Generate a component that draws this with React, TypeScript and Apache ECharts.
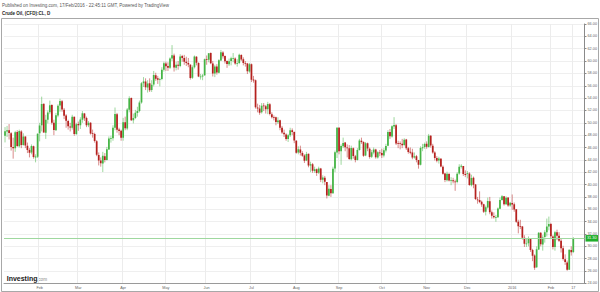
import React, { useEffect, useRef } from "react";
import * as echarts from "echarts";

const headerText = "Published on Investing.com, 17/Feb/2016 - 22:45:11 GMT, Powered by TradingView";
const symbolText = "Crude Oil, (CFD):CL, D";
const monthNames = ["Jan", "Feb", "Mar", "Apr", "May", "Jun", "Jul", "Aug", "Sep", "Oct", "Nov", "Dec"];

// rows: [day, open, close, low, high]
const jan2015 = [
  [7, 47.9, 48.65, 46.83, 49.31], [8, 48.6, 48.79, 47.7, 49.5], [9, 48.8, 48.36, 47.3, 49.8],
  [12, 48.3, 46.07, 45.5, 48.5], [13, 46.1, 45.89, 44.2, 47.6], [14, 45.9, 48.48, 45.3, 48.7],
  [15, 48.5, 46.25, 46.1, 48.8], [16, 46.2, 48.69, 46.0, 48.9], [20, 48.6, 46.39, 45.9, 48.8],
  [21, 46.4, 47.78, 46.3, 48.3], [22, 47.8, 46.31, 45.9, 47.8], [23, 46.3, 45.59, 45.1, 46.8],
  [26, 45.6, 45.15, 44.4, 45.9], [27, 45.2, 46.23, 44.9, 46.5], [28, 46.2, 44.45, 44.2, 46.3],
  [29, 44.4, 44.53, 43.6, 44.9], [30, 44.5, 48.24, 44.3, 48.3],
];
const feb2015 = [
  [2, 48.3, 49.57, 47.0, 50.0], [3, 49.6, 53.05, 48.6, 54.24], [4, 53.1, 48.45, 48.4, 53.1],
  [5, 48.4, 50.48, 47.4, 51.3], [6, 50.5, 51.69, 49.9, 52.0], [9, 51.7, 52.86, 51.4, 53.6],
  [10, 52.9, 50.02, 49.7, 53.0], [11, 50.0, 48.84, 48.0, 50.5], [12, 48.8, 51.21, 48.7, 51.6],
  [13, 51.2, 52.78, 50.9, 53.0], [17, 52.8, 53.53, 51.8, 53.9], [18, 53.5, 52.14, 51.8, 53.7],
  [19, 52.1, 51.16, 50.6, 52.4], [20, 51.2, 50.34, 49.2, 51.4], [23, 50.3, 49.45, 48.9, 50.5],
  [24, 49.4, 49.25, 48.6, 50.0], [25, 49.2, 50.99, 48.9, 51.3], [26, 51.0, 48.17, 47.9, 51.0],
  [27, 48.2, 49.76, 48.0, 50.0],
];
const mar2015 = [
  [2, 49.8, 49.59, 48.7, 50.2], [3, 49.6, 50.52, 49.0, 50.9], [4, 50.5, 51.53, 50.0, 51.9],
  [5, 51.5, 50.76, 50.3, 51.6], [6, 50.8, 49.61, 49.3, 51.0], [9, 49.6, 50.0, 49.3, 50.3],
  [10, 50.0, 48.29, 48.1, 50.1], [11, 48.3, 48.17, 47.6, 48.9], [12, 48.2, 47.05, 46.8, 48.4],
  [13, 47.0, 44.84, 44.6, 47.2], [16, 44.8, 43.88, 43.1, 45.2], [17, 43.9, 43.46, 42.9, 44.4],
  [18, 43.4, 44.66, 42.03, 45.3], [19, 44.6, 43.96, 43.6, 45.1], [20, 44.0, 45.72, 43.9, 46.1],
  [23, 45.7, 47.45, 45.6, 47.8], [24, 47.4, 47.51, 46.8, 47.9], [25, 47.5, 49.21, 47.1, 49.6],
  [26, 49.2, 51.43, 48.8, 52.48], [27, 51.4, 48.87, 48.4, 51.6], [30, 48.9, 48.68, 48.0, 49.2],
  [31, 48.7, 47.6, 47.1, 48.9],
];
const apr2015 = [
  [1, 47.6, 50.09, 47.1, 50.8], [2, 50.1, 49.14, 48.8, 51.0], [6, 49.1, 52.14, 48.8, 52.4],
  [7, 52.1, 53.98, 51.7, 54.3], [8, 54.0, 50.42, 50.3, 54.1], [9, 50.4, 50.79, 49.9, 51.5],
  [10, 50.8, 51.64, 50.6, 52.1], [13, 51.6, 51.91, 51.0, 52.6], [14, 51.9, 53.29, 51.7, 53.6],
  [15, 53.3, 56.39, 53.1, 56.6], [16, 56.4, 56.71, 55.8, 57.4], [17, 56.7, 55.74, 55.3, 57.2],
  [20, 55.7, 56.38, 54.9, 56.9], [21, 56.4, 55.26, 55.0, 57.2], [22, 55.3, 56.16, 55.0, 56.9],
  [23, 56.2, 57.74, 55.9, 58.4], [24, 57.7, 57.15, 56.8, 58.1], [27, 57.2, 56.99, 56.3, 57.6],
  [28, 57.0, 57.06, 55.9, 57.3], [29, 57.1, 58.58, 56.9, 59.0], [30, 58.6, 59.63, 58.3, 59.9],
];
const may2015 = [
  [1, 59.6, 59.15, 58.4, 59.9], [4, 59.2, 58.93, 58.4, 59.8], [5, 58.9, 60.4, 58.7, 60.6],
  [6, 60.4, 60.93, 60.0, 62.58], [7, 60.9, 58.94, 58.3, 61.2], [8, 58.9, 59.39, 58.5, 59.9],
  [11, 59.4, 59.25, 58.6, 60.0], [12, 59.2, 60.75, 59.0, 61.1], [13, 60.8, 60.5, 59.9, 61.0],
  [14, 60.5, 59.88, 59.4, 61.0], [15, 59.9, 59.69, 59.2, 60.7], [18, 59.7, 59.43, 59.0, 60.5],
  [19, 59.4, 57.26, 57.0, 59.5], [20, 57.3, 58.98, 57.1, 59.3], [21, 59.0, 60.72, 58.8, 60.9],
  [22, 60.7, 59.72, 59.3, 60.8], [26, 59.7, 57.51, 57.4, 59.8], [27, 57.5, 57.51, 57.0, 57.9],
  [28, 57.5, 57.68, 56.9, 57.9], [29, 57.7, 60.3, 57.6, 60.4],
];
const jun2015 = [
  [1, 60.3, 60.2, 59.4, 60.9], [2, 60.2, 61.26, 59.8, 61.3], [3, 61.3, 59.64, 59.5, 61.4],
  [4, 59.6, 58.0, 57.5, 60.0], [5, 58.0, 59.13, 57.4, 59.4], [8, 59.1, 58.14, 57.8, 59.5],
  [9, 58.1, 60.14, 58.0, 60.3], [10, 60.1, 61.43, 60.0, 61.8], [11, 61.4, 60.77, 60.4, 61.6],
  [12, 60.8, 59.96, 59.6, 60.9], [15, 60.0, 59.52, 58.9, 60.1], [16, 59.5, 59.97, 59.2, 60.4],
  [17, 60.0, 60.45, 59.3, 60.7], [18, 60.4, 60.45, 59.8, 61.3], [19, 60.4, 59.61, 59.4, 60.6],
  [22, 59.6, 59.68, 59.1, 60.3], [23, 59.7, 61.01, 59.5, 61.2], [24, 61.0, 60.27, 60.0, 61.1],
  [25, 60.3, 59.7, 59.3, 60.6], [26, 59.7, 59.63, 59.1, 60.0], [29, 59.6, 58.33, 57.9, 59.7],
  [30, 58.3, 59.47, 58.1, 59.7],
];
const jul2015 = [
  [1, 59.5, 56.96, 56.6, 59.6], [2, 57.0, 56.93, 56.5, 57.6], [6, 56.9, 52.53, 52.3, 57.0],
  [7, 52.5, 52.33, 51.7, 53.1], [8, 52.3, 51.65, 51.3, 52.9], [9, 51.7, 52.78, 51.5, 53.2],
  [10, 52.8, 52.74, 51.9, 53.2], [13, 52.7, 52.2, 51.5, 52.9], [14, 52.2, 53.04, 51.4, 53.4],
  [15, 53.0, 51.41, 51.2, 53.2], [16, 51.4, 50.91, 50.7, 51.7], [17, 50.9, 50.89, 50.4, 51.2],
  [20, 50.9, 50.15, 49.6, 51.0], [21, 50.1, 50.36, 49.8, 50.9], [22, 50.4, 49.19, 48.8, 50.5],
  [23, 49.2, 48.45, 48.2, 49.5], [24, 48.4, 48.14, 47.7, 48.9], [27, 48.1, 47.39, 47.1, 48.3],
  [28, 47.4, 47.98, 46.9, 48.2], [29, 48.0, 48.79, 47.7, 49.2], [30, 48.8, 48.52, 48.0, 49.1],
  [31, 48.5, 47.12, 46.7, 48.6],
];
const aug2015 = [
  [3, 47.1, 45.17, 45.0, 47.2], [4, 45.2, 45.74, 44.9, 46.2], [5, 45.7, 45.15, 44.7, 46.3],
  [6, 45.1, 44.66, 44.5, 45.4], [7, 44.7, 43.87, 43.5, 44.9], [10, 43.9, 44.96, 43.8, 45.3],
  [11, 45.0, 43.08, 42.8, 45.0], [12, 43.1, 43.3, 42.0, 43.7], [13, 43.3, 42.23, 41.9, 43.5],
  [14, 42.2, 42.5, 41.9, 42.9], [17, 42.5, 41.87, 41.4, 42.6], [18, 41.9, 42.62, 41.7, 42.9],
  [19, 42.6, 40.8, 40.4, 42.7], [20, 40.8, 41.14, 40.2, 41.5], [21, 41.1, 40.45, 39.9, 41.4],
  [24, 40.4, 38.24, 37.75, 40.4], [25, 38.2, 39.31, 38.1, 39.9], [26, 39.3, 38.6, 38.0, 39.9],
  [27, 38.6, 42.56, 38.5, 42.9], [28, 42.6, 45.22, 42.0, 45.5], [31, 45.2, 49.2, 44.3, 49.3],
];
const sep2015 = [
  [1, 49.2, 45.41, 44.9, 49.3], [2, 45.4, 46.25, 43.2, 46.5], [3, 46.2, 46.75, 45.9, 47.6],
  [4, 46.8, 46.05, 45.4, 46.9], [8, 46.0, 45.94, 44.4, 46.5], [9, 45.9, 44.15, 44.0, 46.4],
  [10, 44.1, 45.92, 43.9, 46.3], [11, 45.9, 44.63, 44.2, 46.0], [14, 44.6, 44.0, 43.6, 44.8],
  [15, 44.0, 45.59, 43.9, 45.9], [16, 45.6, 47.15, 45.5, 47.4], [17, 47.1, 46.9, 46.6, 47.6],
  [18, 46.9, 44.68, 44.5, 47.0], [21, 44.7, 46.68, 44.6, 46.9], [22, 46.7, 45.83, 45.4, 46.8],
  [23, 45.8, 44.48, 44.2, 46.0], [24, 44.5, 45.22, 44.3, 45.6], [25, 45.2, 45.7, 44.9, 46.0],
  [28, 45.7, 44.43, 44.2, 45.8], [29, 44.4, 45.23, 44.2, 45.4], [30, 45.2, 45.09, 44.6, 45.6],
];
const oct2015 = [
  [1, 45.1, 44.74, 44.3, 45.8], [2, 44.7, 45.54, 44.4, 45.9], [5, 45.5, 46.26, 45.2, 46.6],
  [6, 46.3, 48.53, 46.2, 48.8], [7, 48.5, 47.81, 47.4, 49.0], [8, 47.8, 49.43, 47.6, 49.6],
  [9, 49.4, 49.63, 49.0, 50.92], [12, 49.6, 46.66, 46.4, 49.8], [13, 46.7, 46.66, 45.9, 47.1],
  [14, 46.7, 46.64, 45.7, 47.0], [15, 46.6, 46.38, 45.9, 47.4], [16, 46.4, 47.26, 46.2, 47.5],
  [19, 47.3, 45.89, 45.6, 47.4], [20, 45.9, 45.29, 45.0, 46.1], [21, 45.3, 45.2, 44.9, 46.0],
  [22, 45.2, 44.38, 44.1, 45.8], [23, 44.4, 44.6, 44.2, 45.2], [26, 44.6, 43.98, 43.6, 44.8],
  [27, 44.0, 43.2, 42.58, 44.0], [28, 43.2, 45.94, 43.1, 46.2], [29, 45.9, 46.06, 45.4, 46.6],
  [30, 46.1, 46.59, 45.8, 46.8],
];
const nov2015 = [
  [2, 46.6, 46.14, 45.8, 47.0], [3, 46.1, 47.9, 46.0, 48.2], [4, 47.9, 46.32, 46.0, 48.0],
  [5, 46.3, 45.2, 45.0, 46.6], [6, 45.2, 44.29, 43.9, 45.4], [9, 44.3, 43.87, 43.6, 44.6],
  [10, 43.9, 44.21, 43.4, 44.5], [11, 44.2, 42.93, 42.8, 44.3], [12, 42.9, 41.75, 41.6, 43.1],
  [13, 41.8, 40.74, 40.4, 41.9], [16, 40.7, 41.74, 40.5, 42.1], [17, 41.7, 40.67, 40.5, 41.9],
  [18, 40.7, 40.75, 39.9, 41.2], [19, 40.7, 40.54, 40.2, 41.1], [20, 40.5, 40.39, 38.99, 40.8],
  [23, 40.4, 41.75, 40.2, 42.0], [24, 41.8, 42.87, 41.6, 43.3], [25, 42.9, 43.04, 42.6, 43.3],
  [27, 43.0, 41.71, 41.4, 43.0], [30, 41.7, 41.65, 41.2, 42.3],
];
const dec2015 = [
  [1, 41.7, 41.85, 41.0, 42.2], [2, 41.8, 39.94, 39.8, 42.0], [3, 39.9, 41.08, 39.7, 41.6],
  [4, 41.1, 39.97, 39.4, 41.3], [7, 40.0, 37.65, 37.5, 40.1], [8, 37.6, 37.51, 36.9, 38.0],
  [9, 37.5, 37.16, 37.0, 38.9], [10, 37.2, 36.76, 36.4, 37.4], [11, 36.8, 35.62, 35.4, 36.9],
  [14, 35.6, 36.31, 35.0, 36.6], [15, 36.3, 37.35, 36.1, 37.9], [16, 37.3, 35.52, 35.2, 38.0],
  [17, 35.5, 34.95, 34.5, 35.8], [18, 34.9, 34.73, 34.5, 35.5], [21, 34.7, 34.74, 33.98, 35.1],
  [22, 34.7, 36.14, 34.6, 36.3], [23, 36.1, 37.5, 36.0, 37.9], [24, 37.5, 38.1, 37.4, 38.3],
  [28, 38.1, 36.81, 36.6, 38.1], [29, 36.8, 37.87, 36.7, 38.1], [30, 37.9, 36.6, 36.4, 37.9],
  [31, 36.6, 37.04, 36.4, 37.2],
];
const jan2016 = [
  [4, 37.0, 36.76, 35.9, 38.4], [5, 36.8, 35.97, 35.6, 37.1], [6, 36.0, 33.97, 33.8, 36.0],
  [7, 34.0, 33.27, 32.1, 34.3], [8, 33.3, 33.16, 32.8, 34.3], [11, 33.2, 31.41, 31.1, 33.3],
  [12, 31.4, 30.44, 29.9, 31.8], [13, 30.4, 30.48, 29.9, 31.3], [14, 30.5, 31.2, 30.0, 31.6],
  [15, 31.2, 29.42, 29.1, 31.2], [19, 29.4, 28.46, 27.6, 29.6], [20, 28.5, 26.55, 26.19, 28.7],
  [21, 26.6, 29.53, 26.5, 30.0], [22, 29.5, 32.19, 29.4, 32.3], [25, 32.2, 30.34, 30.0, 32.3],
  [26, 30.3, 31.45, 29.3, 31.8], [27, 31.5, 32.3, 30.6, 32.6], [28, 32.3, 33.22, 31.6, 34.5],
  [29, 33.2, 33.62, 32.6, 34.82],
];
const feb2016 = [
  [1, 33.6, 31.62, 31.3, 33.8], [2, 31.6, 29.88, 29.5, 31.8], [3, 29.9, 32.28, 29.3, 32.5],
  [4, 32.3, 31.72, 31.0, 32.7], [5, 31.7, 30.89, 30.7, 32.3], [8, 30.9, 29.69, 29.0, 31.2],
  [9, 29.7, 27.94, 27.7, 30.1], [10, 27.9, 27.45, 27.0, 28.7], [11, 27.4, 26.21, 26.05, 27.7],
  [12, 26.2, 29.44, 26.2, 29.5], [16, 29.4, 29.04, 28.5, 30.0], [17, 29.1, 31.3, 28.9, 31.5],
];

const monthBlocks: [number, number, number[][]][] = [
  [2015, 1, jan2015], [2015, 2, feb2015], [2015, 3, mar2015], [2015, 4, apr2015],
  [2015, 5, may2015], [2015, 6, jun2015], [2015, 7, jul2015], [2015, 8, aug2015],
  [2015, 9, sep2015], [2015, 10, oct2015], [2015, 11, nov2015], [2015, 12, dec2015],
  [2016, 1, jan2016], [2016, 2, feb2016],
];
const trailingBlankBars = 5;

const UP = "#45b445";
const DOWN = "#b5211e";
const FONT = "Arial, 'Liberation Sans', sans-serif";

export default function App() {
  const ref = useRef<HTMLDivElement>(null);

  useEffect(() => {
    if (!ref.current) return;
    const chart = echarts.init(ref.current, undefined, { renderer: "svg" });

    const categories: string[] = [];
    const labels: Record<number, string> = {};
    const candles: number[][] = [];
    monthBlocks.forEach(([year, month, rows]) => {
      rows.forEach((r, i) => {
        const idx = categories.length;
        categories.push(`${year}-${String(month).padStart(2, "0")}-${String(r[0]).padStart(2, "0")}`);
        candles.push([idx, r[1], r[2], r[3], r[4]]);
        if (i === 0 && !(year === 2015 && month === 1)) {
          labels[idx] = month === 1 ? String(year) : monthNames[month - 1];
        }
      });
    });
    const lastIdx = categories.length - 1;
    const lastRow = feb2016[feb2016.length - 1];
    labels[lastIdx] = String(lastRow[0]);
    const lastPrice = lastRow[2];
    for (let i = 0; i < trailingBlankBars; i++) categories.push("");

    const showAt = (index: number) => labels[index] !== undefined;

    const renderCandle = (params: any, api: any) => {
      const x = api.value(0);
      const open = api.value(1);
      const close = api.value(2);
      const low = api.value(3);
      const high = api.value(4);
      const pO = api.coord([x, open]);
      const pC = api.coord([x, close]);
      const pL = api.coord([x, low]);
      const pH = api.coord([x, high]);
      const bandW = api.size([1, 0])[0];
      const w = bandW * 0.85;
      const up = close >= open;
      const col = up ? UP : DOWN;
      const top = Math.min(pO[1], pC[1]);
      const h = Math.max(Math.abs(pO[1] - pC[1]), 0.8);
      return {
        type: "group",
        children: [
          {
            type: "line",
            shape: { x1: pH[0], y1: pH[1], x2: pL[0], y2: pL[1] },
            style: { stroke: col, lineWidth: 0.7, opacity: 0.75 },
          },
          {
            type: "rect",
            shape: { x: pO[0] - w / 2, y: top, width: w, height: h },
            style: { fill: col, stroke: null },
          },
        ],
      };
    };

    const option: any = {
      animation: false,
      backgroundColor: "#ffffff",
      grid: { left: 4, right: 14, top: 24, bottom: 8.6, containLabel: false },
      xAxis: {
        type: "category",
        data: categories,
        boundaryGap: true,
        axisLine: { show: true, lineStyle: { color: "#9a9a9a", width: 1 } },
        axisTick: { show: false },
        axisLabel: {
          interval: (index: number) => showAt(index),
          formatter: (_v: string, index: number) => labels[index] ?? "",
          fontSize: 3.8,
          color: "#666",
          margin: 2.5,
          fontFamily: FONT,
        },
        splitLine: {
          show: true,
          interval: (index: number) => showAt(index),
          lineStyle: { color: "#ececec", width: 1 },
        },
      },
      yAxis: {
        type: "value",
        position: "right",
        min: 24,
        max: 66,
        interval: 2,
        axisLine: { show: true, lineStyle: { color: "#8a8a8a", width: 1 } },
        axisTick: { show: true, length: 2, lineStyle: { color: "#8a8a8a" } },
        axisLabel: {
          fontSize: 3.8,
          color: "#666",
          margin: 3,
          fontFamily: FONT,
          formatter: (v: number) => v.toFixed(2),
        },
        splitLine: { show: true, lineStyle: { color: "#efefef", width: 1 } },
      },
      series: [
        {
          type: "custom",
          renderItem: renderCandle,
          encode: { x: 0, y: [1, 2, 3, 4] },
          data: candles,
          clip: true,
          z: 3,
        },
        {
          type: "scatter",
          symbolSize: 0,
          silent: true,
          data: [[lastIdx, lastPrice]],
          z: 2,
          markLine: {
            silent: true,
            symbol: "none",
            data: [{ yAxis: lastPrice }],
            lineStyle: { color: "#9fd89f", width: 1, type: "solid" },
            label: {
              show: true,
              position: "end",
              distance: 1,
              formatter: () => lastPrice.toFixed(2),
              backgroundColor: "#1fae2a",
              color: "#ffffff",
              fontSize: 3.8,
              padding: [1.5, 1.5, 1, 1.5],
              fontFamily: FONT,
            },
          },
        },
      ],
      graphic: [
        {
          type: "rect",
          silent: true,
          shape: { x: 1.5, y: 18.5, width: 597, height: 273 },
          style: { fill: "none", stroke: "#a8a8a8", lineWidth: 1 },
          z: 100,
        },
        {
          type: "text",
          x: 2,
          y: 5.8,
          style: { text: headerText, font: `4.5px ${FONT}`, fill: "#555", verticalAlign: "middle" },
        },
        {
          type: "text",
          x: 2,
          y: 13.3,
          style: { text: symbolText, font: `bold 4.5px ${FONT}`, fill: "#222", verticalAlign: "middle" },
        },
        {
          type: "text",
          x: 6.7,
          y: 278,
          style: { text: "Investing", font: `bold 7px ${FONT}`, fill: "#1a1a1a", verticalAlign: "middle" },
        },
        {
          type: "text",
          x: 37,
          y: 279.2,
          style: { text: ".com", font: `4.6px ${FONT}`, fill: "#888", verticalAlign: "middle" },
        },
      ],
    };

    chart.setOption(option);
    return () => chart.dispose();
  }, []);

  return (
    <div
      ref={ref}
      style={{ position: "fixed", left: 0, top: 0, width: 600, height: 292, background: "#fff" }}
    />
  );
}
